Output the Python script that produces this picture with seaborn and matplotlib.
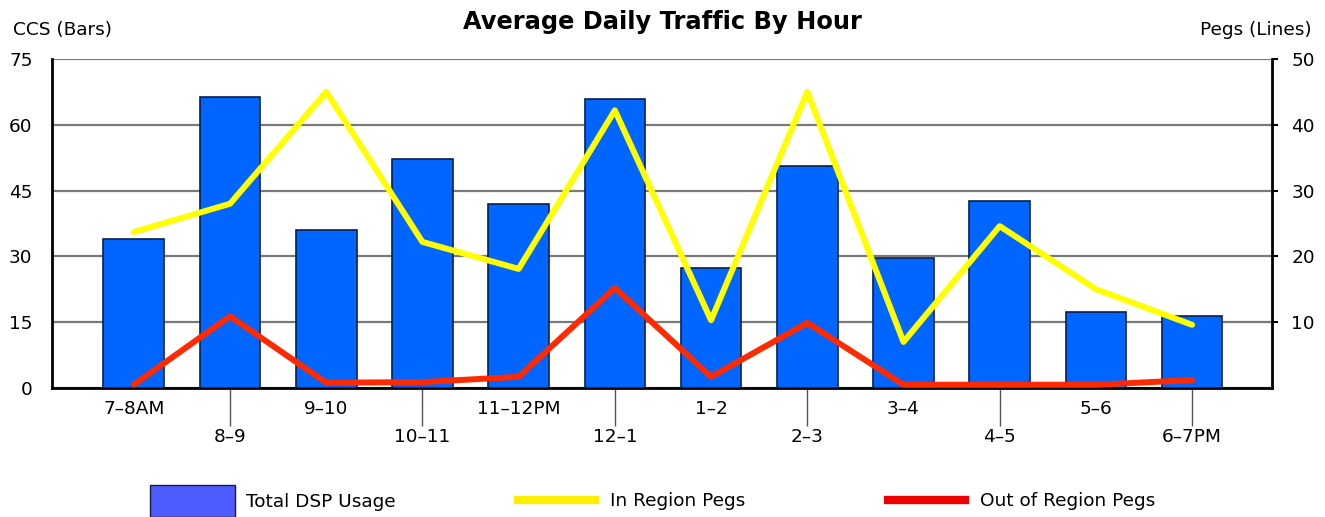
import numpy as np
import pandas as pd
import matplotlib
matplotlib.use("Agg")
import matplotlib.pyplot as plt
import seaborn as sns
from matplotlib.patches import Patch
from matplotlib.lines import Line2D

hours = ["7–8AM", "8–9", "9–10", "10–11", "11–12PM", "12–1", "1–2", "2–3", "3–4", "4–5", "5–6", "6–7PM"]
dsp_usage = [34.0, 66.3, 36.0, 52.2, 41.9, 65.9, 27.4, 50.6, 29.6, 42.6, 17.3, 16.4]
in_region = [23.7, 28.0, 45.0, 22.2, 18.1, 42.2, 10.3, 45.0, 7.0, 24.6, 15.0, 9.6]
out_region = [0.5, 10.9, 0.8, 0.9, 1.7, 15.2, 1.7, 9.9, 0.5, 0.5, 0.5, 1.2]
left_ticks = [0, 15, 30, 45, 60, 75]
right_ticks = [10, 20, 30, 40, 50]

sns.set_style("white")
plt.rcParams["font.family"] = ["DejaVu Sans"]
plt.rcParams["text.color"] = "black"
plt.rcParams["xtick.color"] = "black"
plt.rcParams["ytick.color"] = "black"
plt.rcParams["xtick.labelcolor"] = "black"
plt.rcParams["ytick.labelcolor"] = "black"

df = pd.DataFrame({"hour": hours, "idx": np.arange(len(hours)),
                   "dsp": dsp_usage, "inr": in_region, "outr": out_region})

FS = 13.3

fig = plt.figure(figsize=(13.25, 5.17), dpi=100)
ax = fig.add_axes([52/1325, 1-388/517, (1272-52)/1325, (388-59)/517])

sns.barplot(data=df, x="idx", y="dsp", ax=ax, color="#0066FF", saturation=1,
            width=0.63, edgecolor="#0a1f4a", linewidth=1.2, zorder=3)
ax.set_ylim(0, 75)
ax.set_xlim(-0.85, 11.83)
ax.set_yticks(left_ticks)
ax.set_yticklabels([str(t) for t in left_ticks], fontsize=FS)
ax.yaxis.grid(True, color="#7a7a7a", linewidth=1.6, zorder=0)
ax.set_axisbelow(True)
ax.set_xlabel("")
ax.set_ylabel("")
ax.tick_params(axis="y", length=0, pad=14)

# two-level x labels: even on major, odd on minor (long ticks)
ax.set_xticks(df["idx"][::2].tolist())
ax.set_xticklabels(hours[::2], fontsize=FS)
ax.set_xticks(df["idx"][1::2].tolist(), minor=True)
ax.set_xticklabels(hours[1::2], minor=True, fontsize=FS)
ax.tick_params(axis="x", which="major", length=7, width=1, color="#555555", pad=2)
ax.tick_params(axis="x", which="minor", length=27, width=1, color="#555555", pad=2, bottom=True)

ax.spines["top"].set_visible(False)
ax.spines["left"].set_linewidth(2)
ax.spines["bottom"].set_linewidth(2)
ax.spines["left"].set_color("black")
ax.spines["bottom"].set_color("black")
ax.spines["right"].set_visible(False)

ax2 = ax.twinx()
sns.lineplot(data=df, x="idx", y="inr", ax=ax2, color="#FFFF00", linewidth=4.3, zorder=4)
sns.lineplot(data=df, x="idx", y="outr", ax=ax2, color="#FF2A00", linewidth=4.3, zorder=5)
ax2.set_ylim(0, 50)
ax2.set_xlim(-0.85, 11.83)
ax2.set_yticks(right_ticks)
ax2.set_yticklabels([str(t) for t in right_ticks], fontsize=FS)
ax2.set_ylabel("")
ax2.set_xlabel("")
ax2.tick_params(axis="y", length=4, width=1.5, pad=10)
ax2.spines["top"].set_visible(False)
ax2.spines["left"].set_visible(False)
ax2.spines["bottom"].set_visible(False)
ax2.spines["right"].set_linewidth(2)
ax2.spines["right"].set_color("black")

fig.text(0.5, 1-22/517, "Average Daily Traffic By Hour", ha="center", va="center",
         fontsize=17.4, fontweight="bold", color="black")
fig.text(13/1325, 1-30/517, "CCS (Bars)", ha="left", va="center", fontsize=FS, color="black")
fig.text(1312/1325, 1-30/517, "Pegs (Lines)", ha="right", va="center", fontsize=FS, color="black")

ly = 1-501/517
l1 = fig.legend(handles=[Patch(facecolor="#4C5CFF", edgecolor="#1a1a3a", label="Total DSP Usage")],
                loc="center left", bbox_to_anchor=(133/1325, ly), frameon=False,
                fontsize=FS, handlelength=4.6, handleheight=2.3, handletextpad=0.6)
l2 = fig.legend(handles=[Line2D([], [], color="#FFEE00", linewidth=6, solid_capstyle="butt",
                                label="In Region Pegs")],
                loc="center left", bbox_to_anchor=(497/1325, ly), frameon=False,
                fontsize=FS, handlelength=4.6, handletextpad=0.6)
l3 = fig.legend(handles=[Line2D([], [], color="#EE0000", linewidth=6, solid_capstyle="butt",
                                label="Out of Region Pegs")],
                loc="center left", bbox_to_anchor=(867/1325, ly), frameon=False,
                fontsize=FS, handlelength=4.6, handletextpad=0.6)

fig.savefig("out.png", dpi=100)
